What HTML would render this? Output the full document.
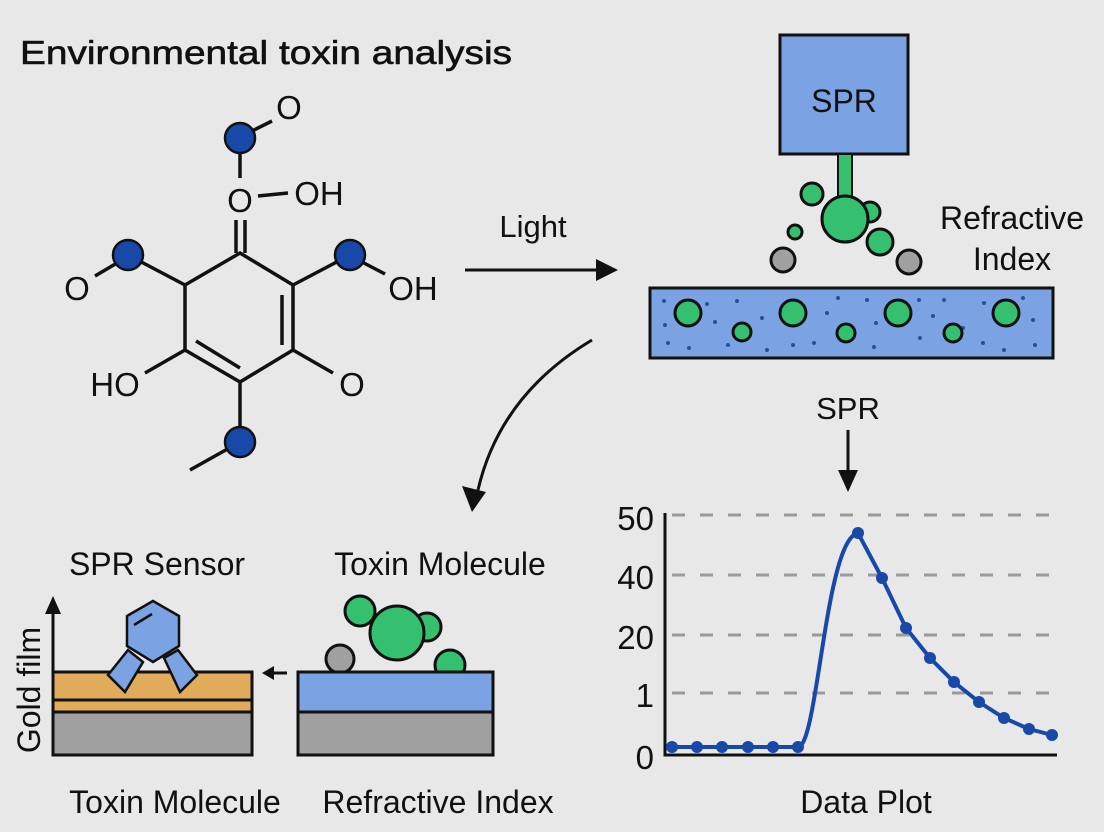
<!DOCTYPE html>
<html><head><meta charset="utf-8"><style>
html,body{margin:0;padding:0;background:#e8e8e8;}
svg{display:block;font-family:"Liberation Sans",sans-serif;}
</style></head><body>
<svg width="1104" height="832" viewBox="0 0 1104 832" xmlns="http://www.w3.org/2000/svg">
<rect width="1104" height="832" fill="#e8e8e8"/>
<text x="20" y="64" font-size="33" fill="#111" stroke="#111" stroke-width="0.6" textLength="492" lengthAdjust="spacingAndGlyphs">Environmental toxin analysis</text>

<!-- molecule -->
<g stroke="#111" stroke-width="3.5" fill="none">
<polygon points="240,253 293,285 293,350 240,382 185,350 185,285"/>
<line x1="282" y1="295" x2="282" y2="345"/>
<line x1="196" y1="341" x2="240" y2="368"/>
<line x1="236" y1="220" x2="236" y2="253"/><line x1="245" y1="220" x2="245" y2="253"/>
<line x1="240" y1="153" x2="240" y2="178"/>
<line x1="258" y1="196" x2="288" y2="193"/>
<line x1="252" y1="131" x2="272" y2="121"/>
<line x1="128" y1="255" x2="185" y2="285"/>
<line x1="95" y1="276" x2="117" y2="263"/>
<line x1="293" y1="285" x2="350" y2="255"/>
<line x1="362" y1="262" x2="385" y2="274"/>
<line x1="145" y1="373" x2="185" y2="350"/>
<line x1="293" y1="350" x2="333" y2="373"/>
<line x1="240" y1="382" x2="240" y2="442"/>
<line x1="240" y1="442" x2="190" y2="470"/>
</g>
<g fill="#1848a8" stroke="#111" stroke-width="2.5">
<circle cx="240" cy="138" r="15"/><circle cx="128" cy="255" r="15"/><circle cx="350" cy="255" r="15"/><circle cx="240" cy="442" r="15"/>
</g>
<g font-size="33" fill="#111" text-anchor="middle">
<text x="289" y="119">O</text>
<text x="240" y="212">O</text>
<text x="319" y="205">OH</text>
<text x="77" y="300">O</text>
<text x="413" y="300">OH</text>
<text x="115" y="396">HO</text>
<text x="352" y="396">O</text>
</g>

<!-- Light arrow -->
<line x1="465" y1="270" x2="600" y2="270" stroke="#111" stroke-width="3"/>
<polygon points="618,270 596,259 596,281" fill="#111"/>
<text x="533" y="237" font-size="31" text-anchor="middle" fill="#111">Light</text>

<!-- SPR top -->
<rect x="780" y="35" width="128" height="119" fill="#7ba3e3" stroke="#111" stroke-width="3"/>
<text x="844" y="112" font-size="32" text-anchor="middle" fill="#111">SPR</text>
<rect x="838" y="154" width="14" height="48" fill="#34c06e" stroke="#111" stroke-width="2"/>
<g stroke="#111" stroke-width="3">
<circle cx="870" cy="212" r="10" fill="#34c06e"/>
<circle cx="812" cy="194" r="11" fill="#34c06e"/>
<circle cx="845" cy="219" r="23" fill="#34c06e"/>
<circle cx="795" cy="232" r="7" fill="#34c06e"/>
<circle cx="880" cy="242" r="13" fill="#34c06e"/>
<circle cx="783" cy="260" r="12" fill="#a0a0a0"/>
<circle cx="909" cy="262" r="12" fill="#a0a0a0"/>
</g>
<text x="1012" y="229" font-size="32" text-anchor="middle" fill="#111">Refractive</text>
<text x="1012" y="270" font-size="32" text-anchor="middle" fill="#111">Index</text>
<rect x="650" y="288" width="403" height="70" fill="#7ba3e3" stroke="#111" stroke-width="3"/>
<g fill="#2a4f9a">
<circle cx="664" cy="301" r="2"/><circle cx="707" cy="304" r="2"/><circle cx="715" cy="322" r="2"/><circle cx="665" cy="325" r="2"/><circle cx="668" cy="343" r="2"/><circle cx="689" cy="348" r="2"/><circle cx="737" cy="301" r="2"/><circle cx="762" cy="318" r="2"/><circle cx="728" cy="345" r="2"/><circle cx="767" cy="350" r="2"/><circle cx="814" cy="343" r="2"/><circle cx="827" cy="313" r="2"/><circle cx="838" cy="298" r="2"/><circle cx="867" cy="300" r="2"/><circle cx="876" cy="323" r="2"/><circle cx="874" cy="347" r="2"/><circle cx="919" cy="300" r="2"/><circle cx="920" cy="338" r="2"/><circle cx="933" cy="316" r="2"/><circle cx="944" cy="300" r="2"/><circle cx="963" cy="328" r="2"/><circle cx="984" cy="303" r="2"/><circle cx="983" cy="343" r="2"/><circle cx="1023" cy="298" r="2"/><circle cx="1033" cy="320" r="2"/><circle cx="1035" cy="345" r="2"/><circle cx="1004" cy="350" r="2"/><circle cx="793" cy="345" r="2"/></g>
<g fill="#34c06e" stroke="#111" stroke-width="3">
<circle cx="688" cy="313" r="13"/><circle cx="742" cy="332" r="9"/><circle cx="793" cy="313" r="13"/><circle cx="846" cy="333" r="9"/><circle cx="898" cy="313" r="13"/><circle cx="953" cy="333" r="9"/><circle cx="1006" cy="313" r="13"/>
</g>

<!-- curved arrow -->
<path d="M592,340 Q500,395 478,490" stroke="#111" stroke-width="3" fill="none"/>
<polygon points="472,512 462,486 486,492" fill="#111"/>

<!-- SPR down arrow -->
<text x="848" y="419" font-size="31" text-anchor="middle" fill="#111">SPR</text>
<line x1="848" y1="430" x2="848" y2="475" stroke="#111" stroke-width="3"/>
<polygon points="848,492 838,470 858,470" fill="#111"/>

<!-- plot -->
<g stroke="#9a9a9a" stroke-width="3" stroke-dasharray="13,15">
<line x1="672" y1="515" x2="1057" y2="515"/><line x1="672" y1="575" x2="1057" y2="575"/><line x1="672" y1="635" x2="1057" y2="635"/><line x1="672" y1="693" x2="1057" y2="693"/>
</g>
<polyline points="665,513 665,755 1057,755" fill="none" stroke="#111" stroke-width="3"/>
<g font-size="33" fill="#111" text-anchor="end">
<text x="654" y="530">50</text><text x="654" y="589">40</text><text x="654" y="649">20</text><text x="654" y="707">1</text><text x="654" y="769">0</text>
</g>
<path d="M672,747 L798,747 C818,747 825,540 858,533 L882,578 L906,628 L930,658 L954,682 L979,702 L1004,718 L1029,729 L1052,735" fill="none" stroke="#1848a8" stroke-width="4"/>
<g fill="#1848a8">
<circle cx="672" cy="747" r="6"/><circle cx="697" cy="747" r="6"/><circle cx="722" cy="747" r="6"/><circle cx="748" cy="747" r="6"/><circle cx="773" cy="747" r="6"/><circle cx="798" cy="747" r="6"/><circle cx="858" cy="533" r="6"/><circle cx="882" cy="578" r="6"/><circle cx="906" cy="628" r="6"/><circle cx="930" cy="658" r="6"/><circle cx="954" cy="682" r="6"/><circle cx="979" cy="702" r="6"/><circle cx="1004" cy="718" r="6"/><circle cx="1029" cy="729" r="6"/><circle cx="1052" cy="735" r="6"/>
</g>
<text x="866" y="813" font-size="32" text-anchor="middle" fill="#111">Data Plot</text>

<!-- bottom left -->
<text x="157" y="575" font-size="32" text-anchor="middle" fill="#111">SPR Sensor</text>
<text x="440" y="575" font-size="32" text-anchor="middle" fill="#111">Toxin Molecule</text>
<line x1="53" y1="672" x2="53" y2="612" stroke="#111" stroke-width="3"/>
<polygon points="53,596 45,614 61,614" fill="#111"/>
<text transform="translate(40,690) rotate(-90)" font-size="32" text-anchor="middle" fill="#111">Gold film</text>
<rect x="53" y="672" width="199" height="40" fill="#e0ac5c" stroke="#111" stroke-width="3"/>
<line x1="53" y1="700" x2="252" y2="700" stroke="#111" stroke-width="3"/>
<rect x="53" y="712" width="199" height="43" fill="#a0a0a0" stroke="#111" stroke-width="3"/>
<g fill="#7ba3e3" stroke="#111" stroke-width="2.5">
<polygon points="108,675 125,692 143,662 128,650"/>
<polygon points="164,658 180,692 197,675 178,650"/>
<polygon points="153,601 179,616 179,646 153,662 127,646 127,616"/>
</g>
<line x1="134" y1="625" x2="152" y2="614" stroke="#111" stroke-width="2.5"/>
<line x1="287" y1="673" x2="272" y2="673" stroke="#111" stroke-width="3"/>
<polygon points="262,673 274,666 274,680" fill="#111"/>
<g stroke="#111" stroke-width="3">
<circle cx="450" cy="665" r="15" fill="#34c06e"/>
<circle cx="340" cy="659" r="14" fill="#a0a0a0"/>
<circle cx="360" cy="611" r="15" fill="#34c06e"/>
<circle cx="427" cy="627" r="14" fill="#34c06e"/>
<circle cx="397" cy="633" r="27" fill="#34c06e"/>
</g>
<rect x="298" y="672" width="195" height="40" fill="#7ba3e3" stroke="#111" stroke-width="3"/>
<rect x="298" y="712" width="195" height="43" fill="#a0a0a0" stroke="#111" stroke-width="3"/>
<text x="175" y="813" font-size="32" text-anchor="middle" fill="#111">Toxin Molecule</text>
<text x="438" y="813" font-size="32" text-anchor="middle" fill="#111">Refractive Index</text>
</svg>
</body></html>
